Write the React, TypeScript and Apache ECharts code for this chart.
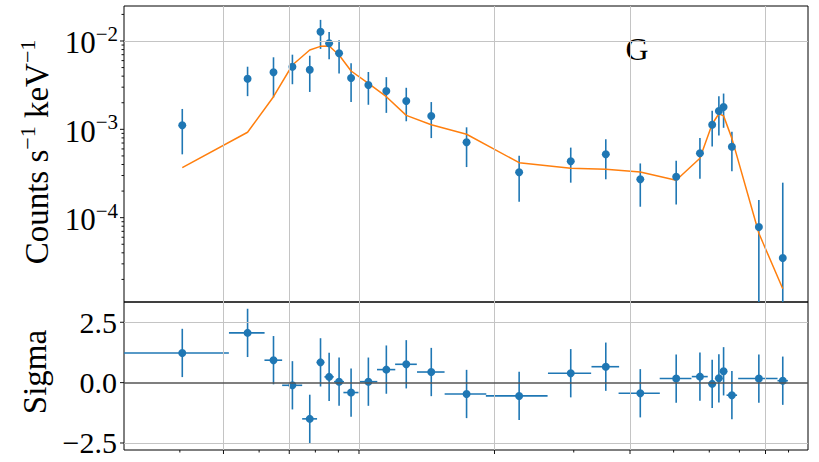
import React, { useEffect, useRef } from "react";
import * as echarts from "echarts";

// ---- data ----
const energy = [0.2025, 0.2828, 0.3229, 0.3557, 0.3887, 0.4107, 0.4292, 0.4516, 0.4802, 0.5246, 0.5751, 0.6368, 0.7237, 0.8669, 1.1344, 1.477, 1.767, 2.108, 2.533, 2.86, 3.045, 3.151, 3.228, 3.368, 3.866, 4.369];
const energyErr = [0.0545, 0.0257, 0.0146, 0.0182, 0.0148, 0.0077, 0.0102, 0.0115, 0.0185, 0.0245, 0.0269, 0.0353, 0.0509, 0.092, 0.1776, 0.1625, 0.1247, 0.2215, 0.205, 0.1165, 0.062, 0.0455, 0.0535, 0.0905, 0.388, 0.116];
const rate = [1.111e-3, 3.745e-3, 4.42e-3, 5.12e-3, 4.73e-3, 1.274e-2, 9.42e-3, 7.26e-3, 3.813e-3, 3.177e-3, 2.716e-3, 2.094e-3, 1.416e-3, 7.14e-4, 3.264e-4, 4.35e-4, 5.22e-4, 2.72e-4, 2.91e-4, 5.36e-4, 1.129e-3, 1.613e-3, 1.791e-3, 6.36e-4, 7.85e-5, 3.5e-5];
const rateErr = [5.9e-4, 1.37e-3, 2.12e-3, 1.88e-3, 2.08e-3, 4.6e-3, 3.2e-3, 2.97e-3, 1.77e-3, 1.28e-3, 1.18e-3, 8.6e-4, 6.2e-4, 3.4e-4, 1.75e-4, 1.86e-4, 2.5e-4, 1.39e-4, 1.5e-4, 2.6e-4, 4.9e-4, 7.6e-4, 7.5e-4, 3.0e-4, 8.0e-5, 2.14e-4];
const model = [3.68e-4, 9.26e-4, 2.342e-3, 5.35e-3, 7.91e-3, 8.7e-3, 8.78e-3, 6.94e-3, 4.575e-3, 3.32e-3, 2.342e-3, 1.44e-3, 1.129e-3, 8.79e-4, 4.19e-4, 3.62e-4, 3.53e-4, 3.29e-4, 2.65e-4, 4.7e-4, 1.15e-3, 1.5e-3, 1.42e-3, 7.9e-4, 6.66e-5, 1.57e-5];
const sigma = [1.23, 2.06, 0.93, -0.11, -1.5, 0.84, 0.24, 0.04, -0.41, 0.04, 0.54, 0.76, 0.44, -0.47, -0.55, 0.39, 0.66, -0.44, 0.17, 0.25, -0.05, 0.18, 0.47, -0.52, 0.17, 0.08];
const sigmaErr = [1, 1, 1, 1, 1, 1, 1, 1, 1, 1, 1, 1, 1, 1, 1, 1, 1, 1, 1, 1, 1, 1, 1, 1, 1, 1];

const xMajorTicks = [0.25, 0.35, 0.5, 1, 2, 4];
const xMinorTicks = [0.2, 0.3, 0.4, 0.45, 1.5, 2.5, 3, 3.5, 4.5];
const yMajorTicks = [1e-4, 1e-3, 1e-2];
const yMinorTicks = [2e-5, 3e-5, 4e-5, 5e-5, 6e-5, 7e-5, 8e-5, 9e-5, 2e-4, 3e-4, 4e-4, 5e-4, 6e-4, 7e-4, 8e-4, 9e-4, 2e-3, 3e-3, 4e-3, 5e-3, 6e-3, 7e-3, 8e-3, 9e-3, 2e-2];
const sigmaTicks = [-2.5, 0, 2.5];

const X_MIN = 0.1503;
const X_MAX = 4.971;
const Y_MIN = 1.11e-5;
const Y_MAX = 2.49e-2;
const S_MIN = -2.79;
const S_MAX = 3.34;

const BLUE = "#1f77b4";
const ORANGE = "#ff7f0e";
const GRID = "#c4c4c4";
const FONT = "'Liberation Serif', 'Times New Roman', serif";

function tickSeries(values: number[], dir: "x" | "y", len: number, gridIdx: number) {
  return {
    type: "custom",
    xAxisIndex: gridIdx,
    yAxisIndex: gridIdx,
    clip: false,
    silent: true,
    z: 5,
    data: values.map((v) => (dir === "x" ? [v, gridIdx === 1 ? S_MIN : Y_MIN] : [X_MIN, v])),
    renderItem: (_p: any, api: any) => {
      const p = api.coord([api.value(0), api.value(1)]);
      const shape =
        dir === "x"
          ? { x1: p[0], y1: p[1], x2: p[0], y2: p[1] + len }
          : { x1: p[0] - len, y1: p[1], x2: p[0], y2: p[1] };
      return { type: "line", shape, style: { stroke: "#111", lineWidth: 1 } };
    },
  };
}

const ml = (data: any[]) => ({
  silent: true,
  symbol: ["none", "none"],
  label: { show: false },
  animation: false,
  emphasis: { disabled: true },
  lineStyle: { color: GRID, width: 1, type: "solid" },
  data,
});

export default function App() {
  const ref = useRef<HTMLDivElement>(null);
  useEffect(() => {
    if (!ref.current) return;
    const chart = echarts.init(ref.current, undefined, { renderer: "svg" });
    const supRich = {
      b: { fontSize: 31, fontFamily: FONT, color: "#000", verticalAlign: "bottom" },
      s: { fontSize: 21, fontFamily: FONT, color: "#000", verticalAlign: "bottom", padding: [0, 0, 14, 0] },
    };
    const nameRich = {
      b: { fontSize: 33, fontFamily: FONT, color: "#000", verticalAlign: "bottom" },
      s: { fontSize: 22, fontFamily: FONT, color: "#000", verticalAlign: "bottom", padding: [0, 0, 15, 0] },
    };
    const option: any = {
      animation: false,
      backgroundColor: "#fff",
      grid: [
        { left: 124, top: 6, width: 684, height: 296, show: true, borderColor: "#000", borderWidth: 1, backgroundColor: "transparent" },
        { left: 124, top: 302, width: 684, height: 148, show: true, borderColor: "#000", borderWidth: 1, backgroundColor: "transparent" },
      ],
      xAxis: [0, 1].map((g) => ({
        type: "log",
        logBase: 10,
        gridIndex: g,
        min: X_MIN,
        max: X_MAX,
        axisLine: { show: false },
        axisTick: { show: false },
        axisLabel: { show: false },
        splitLine: { show: false },
      })),
      yAxis: [
        {
          type: "log",
          logBase: 10,
          gridIndex: 0,
          min: Y_MIN,
          max: Y_MAX,
          axisLine: { show: false },
          axisTick: { show: false },
          splitLine: { show: false },
          axisLabel: {
            showMinLabel: false,
            showMaxLabel: false,
            margin: 6,
            formatter: (v: number) => {
              const e = Math.round(Math.log10(v));
              return "{b|10}{s|" + (e < 0 ? "\u2212" : "") + Math.abs(e) + "}";
            },
            rich: supRich,
          },
          name: "{b|Counts s}{s|\u22121}{b| keV}{s|\u22121}",
          nameLocation: "middle",
          nameRotate: 90,
          nameGap: 28,
          nameTextStyle: { rich: nameRich, padding: [0, 0, 0, 4] },
        },
        {
          type: "value",
          gridIndex: 1,
          min: S_MIN,
          max: S_MAX,
          axisLine: { show: false },
          axisTick: { show: false },
          splitLine: { show: false },
          axisLabel: {
            customValues: sigmaTicks,
            margin: 7,
            fontSize: 30,
            fontFamily: FONT,
            color: "#000",
            formatter: (v: number) => (v < 0 ? "\u2212" : "") + Math.abs(v).toFixed(1),
          },
          name: "Sigma",
          nameLocation: "middle",
          nameRotate: 90,
          nameGap: 63,
          nameTextStyle: { fontSize: 33, fontFamily: FONT, color: "#000", padding: [0, 0, 0, 8] },
        },
      ],
      graphic: [
        {
          type: "text",
          x: 637,
          y: 49,
          style: { text: "G", fontSize: 32, fontFamily: FONT, fill: "#000", align: "center", verticalAlign: "middle" },
        },
      ],
      series: [
        {
          type: "line",
          xAxisIndex: 0,
          yAxisIndex: 0,
          data: [[1, 1e-3]],
          symbol: "none",
          lineStyle: { width: 0 },
          silent: true,
          z: 1,
          markLine: ml([
            ...xMajorTicks.map((v) => ({ xAxis: v })),
            ...yMajorTicks.map((v) => ({ yAxis: v })),
          ]),
        },
        {
          type: "line",
          xAxisIndex: 1,
          yAxisIndex: 1,
          data: [[1, 0]],
          symbol: "none",
          lineStyle: { width: 0 },
          silent: true,
          z: 1,
          markLine: ml([
            ...xMajorTicks.map((v) => ({ xAxis: v })),
            { yAxis: 2.5 },
            { yAxis: -2.5 },
            { yAxis: 0, lineStyle: { color: "#555", width: 1.6, type: "solid" } },
          ]),
        },
        {
          type: "custom",
          xAxisIndex: 0,
          yAxisIndex: 0,
          clip: false,
          z: 3,
          data: energy.map((e, i) => [e, rate[i], rateErr[i]]),
          renderItem: (_p: any, api: any) => {
            const e = api.value(0);
            const v = api.value(1);
            const er = api.value(2);
            const lo = Math.max(v - er, Y_MIN);
            const hi = Math.min(v + er, Y_MAX);
            const a = api.coord([e, lo]);
            const b = api.coord([e, hi]);
            return { type: "line", shape: { x1: a[0], y1: a[1], x2: b[0], y2: b[1] }, style: { stroke: BLUE, lineWidth: 1.6 } };
          },
        },
        {
          type: "line",
          xAxisIndex: 0,
          yAxisIndex: 0,
          z: 3,
          symbol: "none",
          data: energy.map((e, i) => [e, model[i]]),
          lineStyle: { color: ORANGE, width: 1.5 },
        },
        {
          type: "scatter",
          xAxisIndex: 0,
          yAxisIndex: 0,
          z: 4,
          symbolSize: 8,
          itemStyle: { color: BLUE, opacity: 1 },
          data: energy.map((e, i) => [e, rate[i]]),
        },
        {
          type: "custom",
          xAxisIndex: 1,
          yAxisIndex: 1,
          clip: false,
          z: 3,
          data: energy.map((e, i) => [e, sigma[i], energyErr[i], sigmaErr[i]]),
          renderItem: (_p: any, api: any) => {
            const e = api.value(0);
            const s = api.value(1);
            const xe = api.value(2);
            const se = api.value(3);
            const l = api.coord([Math.max(e - xe, X_MIN), s]);
            const r = api.coord([Math.min(e + xe, X_MAX), s]);
            const t = api.coord([e, Math.min(s + se, S_MAX)]);
            const b = api.coord([e, Math.max(s - se, S_MIN)]);
            return {
              type: "group",
              children: [
                { type: "line", shape: { x1: l[0], y1: l[1], x2: r[0], y2: r[1] }, style: { stroke: BLUE, lineWidth: 1.6 } },
                { type: "line", shape: { x1: t[0], y1: t[1], x2: b[0], y2: b[1] }, style: { stroke: BLUE, lineWidth: 1.6 } },
              ],
            };
          },
        },
        {
          type: "scatter",
          xAxisIndex: 1,
          yAxisIndex: 1,
          z: 4,
          symbolSize: 8,
          itemStyle: { color: BLUE, opacity: 1 },
          data: energy.map((e, i) => [e, sigma[i]]),
        },
        tickSeries(xMajorTicks, "x", 4, 1),
        tickSeries(xMinorTicks, "x", 2.5, 1),
        tickSeries(yMajorTicks, "y", 4, 0),
        tickSeries(yMinorTicks, "y", 2.5, 0),
        tickSeries(sigmaTicks, "y", 4, 1),
      ],
    };
    chart.setOption(option);
    return () => chart.dispose();
  }, []);
  return <div ref={ref} style={{ position: "fixed", left: 0, top: 0, width: 819, height: 462 }} />;
}
